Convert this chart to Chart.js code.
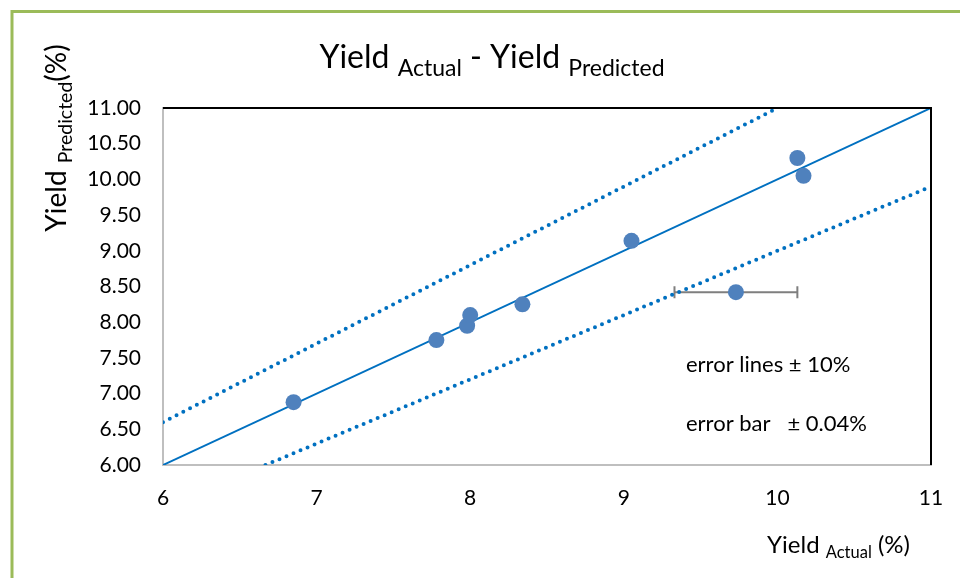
<!DOCTYPE html>
<html>
<head>
<meta charset="utf-8">
<script src="https://cdn.jsdelivr.net/npm/chart.js@4.4.1/dist/chart.umd.min.js"></script>
<style>
  html, body { margin: 0; padding: 0; background: #fff; }
  #wrap { width: 960px; height: 578px; position: relative; }
</style>
</head>
<body>
<div id="wrap"><canvas id="chart" width="960" height="578"></canvas></div>
<script>
// measured points
const actual    = [6.85, 7.78, 7.98, 8.00, 8.34, 9.05, 9.73, 10.13, 10.17];
const predicted = [6.88, 7.75, 7.95, 8.10, 8.25, 9.14, 8.42, 10.30, 10.05];

// horizontal error bar on one point
const errIndex = 6;
const errHalf = 0.40;

// parity line and +/-10% lines (end points)
const parityX = [6, 11];
const parityY = [6, 11];
const upperX = [6, 10];
const upperY = [6.6, 11];
const lowerX = [6.667, 11];
const lowerY = [6, 9.9];

const xTicks = [6, 7, 8, 9, 10, 11];
const yTicks = [6, 6.5, 7, 7.5, 8, 8.5, 9, 9.5, 10, 10.5, 11];

const FONT = 'Lato, "Open Sans", sans-serif';

function pts(xs, ys) {
    return xs.map((x, i) => ({ x: x, y: ys[i] }));
}

// draw text made of pieces, some smaller and lowered (subscripts)
function drawRich(ctx, parts, x, y, align) {
    let total = 0;
    parts.forEach(p => {
        ctx.font = p.size + 'px ' + FONT;
        p.w = ctx.measureText(p.text).width;
        total += p.w;
    });
    let cx = align === 'center' ? x - total / 2 : (align === 'right' ? x - total : x);
    ctx.textAlign = 'left';
    ctx.textBaseline = 'alphabetic';
    parts.forEach(p => {
        ctx.font = p.size + 'px ' + FONT;
        ctx.fillText(p.text, cx, y + (p.dy || 0));
        cx += p.w;
    });
}

const decorations = {
    id: 'decorations',
    beforeDraw(chart) {
        const ctx = chart.ctx;
        ctx.save();
        ctx.fillStyle = '#fff';
        ctx.fillRect(0, 0, chart.width, chart.height);
        // green frame
        ctx.strokeStyle = '#9bbb59';
        ctx.lineWidth = 3;
        ctx.beginPath();
        ctx.moveTo(12, 578);
        ctx.lineTo(12, 11.5);
        ctx.lineTo(960, 11.5);
        ctx.stroke();
        ctx.restore();
    },
    beforeDatasetsDraw(chart) {
        const ctx = chart.ctx;
        const xs = chart.scales.x, ys = chart.scales.y;
        const x0 = xs.getPixelForValue(actual[errIndex] - errHalf);
        const x1 = xs.getPixelForValue(actual[errIndex] + errHalf);
        const py = ys.getPixelForValue(predicted[errIndex]);
        ctx.save();
        ctx.strokeStyle = '#7f7f7f';
        ctx.lineWidth = 2;
        ctx.beginPath();
        ctx.moveTo(x0, py); ctx.lineTo(x1, py);
        ctx.moveTo(x0, py - 6); ctx.lineTo(x0, py + 6);
        ctx.moveTo(x1, py - 6); ctx.lineTo(x1, py + 6);
        ctx.stroke();
        ctx.restore();
    },
    afterDraw(chart) {
        const ctx = chart.ctx;
        const a = chart.chartArea;
        ctx.save();
        // top and right frame of the plot
        ctx.strokeStyle = '#000';
        ctx.lineWidth = 2;
        ctx.beginPath();
        ctx.moveTo(a.left, a.top);
        ctx.lineTo(a.right, a.top);
        ctx.lineTo(a.right, a.bottom);
        ctx.stroke();

        ctx.fillStyle = '#000';
        // title
        drawRich(ctx, [
            { text: 'Yield ', size: 32 },
            { text: 'Actual', size: 23, dy: 8 },
            { text: ' - Yield ', size: 32 },
            { text: 'Predicted', size: 23, dy: 8 }
        ], 492, 68, 'center');

        // x axis title
        drawRich(ctx, [
            { text: 'Yield ', size: 24 },
            { text: 'Actual', size: 16.5, dy: 5 },
            { text: ' (%)', size: 24 }
        ], 910, 553, 'right');

        // y axis title, rotated
        ctx.save();
        ctx.translate(66, 138);
        ctx.rotate(-Math.PI / 2);
        drawRich(ctx, [
            { text: 'Yield ', size: 28 },
            { text: 'Predicted', size: 19.5, dy: 6 },
            { text: '(%)', size: 28 }
        ], 0, 0, 'center');
        ctx.restore();

        // notes
        ctx.font = '22px ' + FONT;
        ctx.textAlign = 'left';
        ctx.textBaseline = 'alphabetic';
        ctx.fillText('error lines \u00b1 10%', 686, 372);
        ctx.fillText('error bar   \u00b1 0.04%', 686, 431);
        ctx.restore();
    }
};

const ctx = document.getElementById('chart').getContext('2d');
const chart = new Chart(ctx, {
    type: 'scatter',
    data: {
        datasets: [
            {
                label: 'data',
                data: pts(actual, predicted),
                backgroundColor: '#4f81bd',
                borderWidth: 0,
                pointRadius: 8,
                pointHoverRadius: 8
            },
            {
                label: 'parity',
                data: pts(parityX, parityY),
                showLine: true,
                borderColor: '#0070c0',
                borderWidth: 2,
                pointRadius: 0
            },
            {
                label: '+10%',
                data: pts(upperX, upperY),
                showLine: true,
                borderColor: '#0070c0',
                borderWidth: 4,
                borderCapStyle: 'round',
                borderDash: [0, 7.6],
                pointRadius: 0
            },
            {
                label: '-10%',
                data: pts(lowerX, lowerY),
                showLine: true,
                borderColor: '#0070c0',
                borderWidth: 4,
                borderCapStyle: 'round',
                borderDash: [0, 7.6],
                pointRadius: 0
            }
        ]
    },
    options: {
        responsive: false,
        animation: false,
        events: [],
        layout: {
            padding: { top: 108, right: 29, bottom: 0, left: 0 }
        },
        plugins: {
            legend: { display: false },
            tooltip: { enabled: false },
            title: { display: false }
        },
        scales: {
            x: {
                type: 'linear',
                min: 6,
                max: 11,
                afterFit: (scale) => {
                    scale.height = 113;
                    scale.paddingLeft = 0;
                    scale.paddingRight = 0;
                },
                afterBuildTicks: (scale) => { scale.ticks = xTicks.map(v => ({ value: v })); },
                grid: { display: false, drawTicks: false },
                border: { display: true, color: '#bfbfbf', width: 2 },
                ticks: {
                    padding: 21,
                    color: '#000',
                    font: { family: FONT, size: 21 },
                    callback: (v) => String(v)
                }
            },
            y: {
                type: 'linear',
                min: 6,
                max: 11,
                afterFit: (scale) => { scale.width = 163; },
                afterBuildTicks: (scale) => { scale.ticks = yTicks.map(v => ({ value: v })); },
                grid: { display: false, drawTicks: false },
                border: { display: true, color: '#bfbfbf', width: 2 },
                ticks: {
                    padding: 22,
                    color: '#000',
                    font: { family: FONT, size: 21 },
                    callback: (v) => Number(v).toFixed(2)
                }
            }
        }
    },
    plugins: [decorations]
});
</script>
</body>
</html>
